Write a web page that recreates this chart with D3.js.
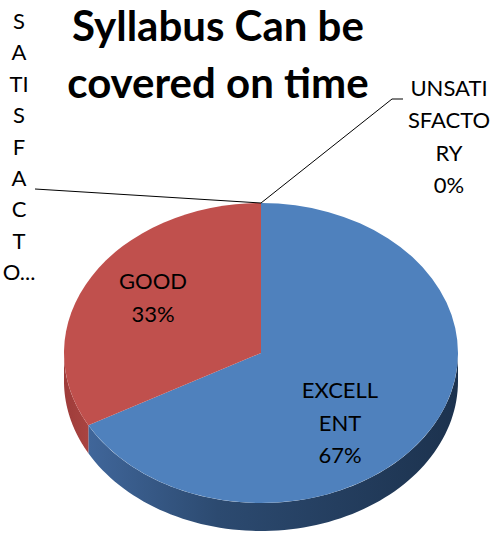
<!DOCTYPE html>
<html><head><meta charset="utf-8">
<script src="https://d3js.org/d3.v7.min.js"></script>
<style>body{margin:0;background:#fff}svg{display:block}</style>
</head><body><div id="c"></div>
<script>
const categories = ["EXCELLENT", "GOOD", "SATISFACTORY", "UNSATISFACTORY"];
const values = [67, 33, 0, 0];
const titleLines = ["Syllabus Can be", "covered on time"];
const labelLines = [["EXCELL", "ENT", "67%"], ["GOOD", "33%"], ["S","A","TI","S","F","A","C","T","O..."], ["UNSATI", "SFACTO", "RY", "0%"]];
const colors = ["#4F81BD", "#C0504D", "#9BBB59", "#8064A2"];

const W = 493, H = 533;
const cx = 261, cy = 353, rx = 197, ry = 150, depth = 28;
const font = "Lato, 'Open Sans', sans-serif";

const svg = d3.select("#c").append("svg").attr("width", W).attr("height", H);
const defs = svg.append("defs");
const gb = defs.append("linearGradient").attr("id", "sideBlue").attr("x1", "0").attr("x2", "1").attr("y1", "0").attr("y2", "0");
gb.append("stop").attr("offset", "0").attr("stop-color", "#40669a");
gb.append("stop").attr("offset", "0.35").attr("stop-color", "#2c4a70");
gb.append("stop").attr("offset", "1").attr("stop-color", "#1c324e");
const gr = defs.append("linearGradient").attr("id", "sideRed").attr("x1", "0").attr("x2", "1").attr("y1", "0").attr("y2", "0");
gr.append("stop").attr("offset", "0").attr("stop-color", "#9e3c3a");
gr.append("stop").attr("offset", "1").attr("stop-color", "#a94441");
const sideFill = ["url(#sideBlue)", "url(#sideRed)", "#6f8a3e", "#5a4775"];

const pie = d3.pie().sort(null).value(d => d);
const arcs = pie(values);

const ex = a => cx + rx * Math.sin(a);
const ey = a => cy - ry * Math.cos(a);

// side walls (front half: angles PI/2 .. 3PI/2)
const sides = svg.append("g");
arcs.forEach((d, i) => {
  const a0 = Math.max(d.startAngle, Math.PI / 2), a1 = Math.min(d.endAngle, 3 * Math.PI / 2);
  if (a1 <= a0) return;
  const n = 80, p = d3.path();
  for (let k = 0; k <= n; k++) {
    const a = a0 + (a1 - a0) * k / n;
    k === 0 ? p.moveTo(ex(a), ey(a)) : p.lineTo(ex(a), ey(a));
  }
  for (let k = n; k >= 0; k--) {
    const a = a0 + (a1 - a0) * k / n;
    p.lineTo(ex(a), ey(a) + depth);
  }
  p.closePath();
  sides.append("path").attr("d", p.toString()).attr("fill", sideFill[i]);
});

// top face
const arc = d3.arc().innerRadius(0).outerRadius(rx);
svg.append("g").attr("transform", `translate(${cx},${cy}) scale(1,${ry / rx})`)
  .selectAll("path").data(arcs).join("path")
  .attr("d", arc).attr("fill", (d, i) => colors[i]);

// leader lines from zero-width slices
const topX = ex(0), topY = ey(0);
svg.append("polyline").attr("points", `${topX},${topY} 35,189`)
  .attr("fill", "none").attr("stroke", "#000").attr("stroke-width", 1);
svg.append("polyline").attr("points", `${topX},${topY} 392,99 403,99`)
  .attr("fill", "none").attr("stroke", "#000").attr("stroke-width", 1);

// title
const t = svg.append("text").attr("font-family", font).attr("font-weight", "bold")
  .attr("font-size", 42).attr("text-anchor", "middle").attr("fill", "#000");
titleLines.forEach((s, i) => t.append("tspan").attr("x", 218).attr("y", 41 + i * 57).text(s));

// data labels
const labelPos = [[340, 398], [153, 289], [19, 29], [449, 96]];
const lineStep = [32.5, 32.5, 31.4, 32.3];
labelLines.forEach((lines, i) => {
  const g = svg.append("text").attr("font-family", font).attr("font-size", 22)
    .attr("text-anchor", "middle").attr("fill", "#000");
  lines.forEach((s, j) => g.append("tspan").attr("x", labelPos[i][0]).attr("y", labelPos[i][1] + j * lineStep[i]).text(s));
});
</script></body></html>
